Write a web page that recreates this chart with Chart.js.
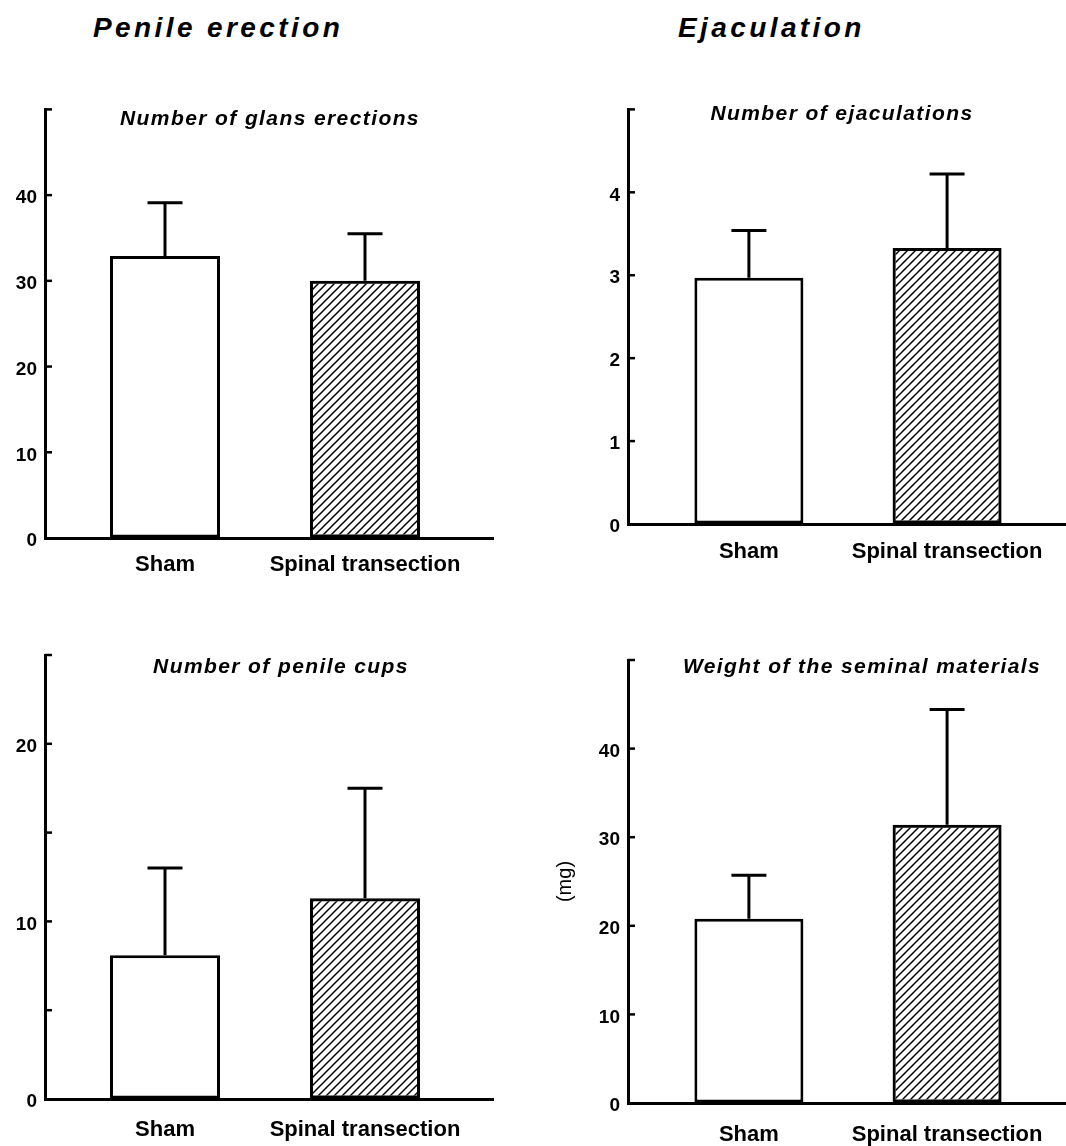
<!DOCTYPE html>
<html>
<head>
<meta charset="utf-8">
<script src="https://cdn.jsdelivr.net/npm/chart.js@4"></script>
<style>
body { margin: 0; background: #fff; }
#page { position: relative; width: 1066px; height: 1146px; overflow: hidden; background: #fff;
        font-family: "Liberation Sans", Arial, Helvetica, sans-serif; color: #000; }
canvas { position: absolute; }
.head { position: absolute; top: 14px; font-size: 28px; line-height: 28px; font-weight: bold;
        font-style: italic; letter-spacing: 3.4px; white-space: nowrap; }
.sub { position: absolute; font-size: 21px; line-height: 21px; font-weight: bold; font-style: italic;
       letter-spacing: 1.4px; white-space: nowrap; transform: translateX(-50%); }
</style>
</head>
<body>
<div id="page">
  <div class="head" style="left:93px">Penile erection</div>
  <div class="head" style="left:678px">Ejaculation</div>

  <canvas id="c1" width="533" height="505" style="left:0px;top:90px"></canvas>
  <canvas id="c2" width="526" height="505" style="left:540px;top:90px"></canvas>
  <canvas id="c3" width="533" height="516" style="left:0px;top:630px"></canvas>
  <canvas id="c4" width="526" height="516" style="left:540px;top:630px"></canvas>

  <div class="sub" style="left:270px;top:107px">Number of glans erections</div>
  <div class="sub" style="left:842px;top:102px">Number of ejaculations</div>
  <div class="sub" style="left:281px;top:655px">Number of penile cups</div>
  <div class="sub" style="left:862px;top:655px">Weight of the seminal materials</div>
</div>

<script>
Chart.defaults.font.family = '"Liberation Sans", Arial, Helvetica, sans-serif';
Chart.defaults.color = '#000';

var categories = ['Sham', 'Spinal transection'];

// mean and upper error (SEM)
var glansMeans = [32.9, 30.0];
var glansErrors = [6.2, 5.5];
var glansTicks = [0, 10, 20, 30, 40, 50];
var glansTickLabels = ['0', '10', '20', '30', '40', ''];

var ejacMeans = [2.97, 3.33];
var ejacErrors = [0.57, 0.89];
var ejacTicks = [0, 1, 2, 3, 4, 5];
var ejacTickLabels = ['0', '1', '2', '3', '4', ''];

var cupsMeans = [8.1, 11.3];
var cupsErrors = [4.9, 6.2];
var cupsTicks = [0, 5, 10, 15, 20, 25];
var cupsTickLabels = ['0', '', '10', '', '20', ''];

var weightMeans = [20.8, 31.4];
var weightErrors = [4.9, 13.0];
var weightTicks = [0, 10, 20, 30, 40, 50];
var weightTickLabels = ['0', '10', '20', '30', '40', ''];

function makeHatch() {
    var c = document.createElement('canvas');
    c.width = 8; c.height = 8;
    var g = c.getContext('2d');
    g.strokeStyle = '#000';
    g.lineWidth = 1.5;
    g.beginPath();
    g.moveTo(-2, 10); g.lineTo(10, -2);
    g.moveTo(-2, 2); g.lineTo(2, -2);
    g.moveTo(6, 10); g.lineTo(10, 6);
    g.stroke();
    return g.createPattern(c, 'repeat');
}
var hatch = makeHatch();

// error bars (upper only) + short inward ticks on the y axis
var marksPlugin = {
    id: 'marks',
    afterDatasetsDraw: function(chart) {
        var ctx = chart.ctx;
        var y = chart.scales.y;
        var area = chart.chartArea;
        var ds = chart.data.datasets[0];
        ctx.save();
        ctx.strokeStyle = '#000';
        ctx.lineWidth = 3;
        chart.getDatasetMeta(0).data.forEach(function(bar, i) {
            var top = y.getPixelForValue(ds.data[i].y + ds.errors[i]);
            ctx.beginPath();
            ctx.moveTo(bar.x, bar.y);
            ctx.lineTo(bar.x, top);
            ctx.moveTo(bar.x - 17.5, top);
            ctx.lineTo(bar.x + 17.5, top);
            ctx.stroke();
        });
        ctx.lineWidth = 2.5;
        y.ticks.forEach(function(t, i) {
            if (t.value === 0) return;
            var py = y.getPixelForTick(i);
            ctx.beginPath();
            ctx.moveTo(area.left, py);
            ctx.lineTo(area.left + 7, py);
            ctx.stroke();
        });
        ctx.restore();
    }
};

function makeChart(id, means, errors, ticks, tickLabels, geo) {
    return new Chart(document.getElementById(id), {
        type: 'bar',
        data: {
            datasets: [{
                data: means.map(function(v, i) { return { x: i + 1, y: v }; }),
                errors: errors,
                backgroundColor: ['#ffffff', hatch],
                borderColor: '#000',
                borderWidth: 3,
                borderSkipped: false,
                barPercentage: 0.55,
                categoryPercentage: 1.0
            }]
        },
        options: {
            responsive: false,
            animation: false,
            events: [],
            layout: { padding: { top: geo.padTop, right: geo.padRight, left: 0, bottom: 0 } },
            plugins: { legend: { display: false }, tooltip: { enabled: false } },
            scales: {
                x: {
                    type: 'linear',
                    min: geo.xMin,
                    max: geo.xMax,
                    offset: false,
                    afterBuildTicks: function(axis) {
                        axis.ticks = categories.map(function(c, i) { return { value: i + 1 }; });
                    },
                    afterFit: function(scale) { scale.height = geo.xHeight; },
                    grid: { display: true, drawOnChartArea: false, drawTicks: false, offset: false },
                    border: { display: true, color: '#000', width: 3 },
                    ticks: {
                        autoSkip: false,
                        maxRotation: 0,
                        padding: geo.labelPad,
                        font: { size: 22, weight: 'bold' },
                        callback: function(value) { return categories[value - 1]; }
                    }
                },
                y: {
                    min: ticks[0],
                    max: ticks[ticks.length - 1],
                    afterBuildTicks: function(axis) {
                        axis.ticks = ticks.map(function(v) { return { value: v }; });
                    },
                    afterFit: function(scale) { scale.width = geo.yWidth; },
                    grid: { display: true, drawOnChartArea: false, drawTicks: false },
                    border: { display: true, color: '#000', width: 3 },
                    title: geo.yTitle ? {
                        display: true,
                        text: geo.yTitle,
                        font: { size: 20, weight: 'normal' },
                        padding: { top: 13, bottom: 0 }
                    } : { display: false },
                    ticks: {
                        padding: 8,
                        labelOffset: 3,
                        font: { size: 19, weight: 'bold' },
                        callback: function(value, index) { return tickLabels[index]; }
                    }
                }
            }
        },
        plugins: [marksPlugin]
    });
}

makeChart('c1', glansMeans, glansErrors, glansTicks, glansTickLabels,
    { padTop: 18, padRight: 40, yWidth: 45, xHeight: 57, labelPad: 14, xMin: 0.4, xMax: 2.64 });
makeChart('c2', ejacMeans, ejacErrors, ejacTicks, ejacTickLabels,
    { padTop: 19, padRight: 0, yWidth: 88, xHeight: 71, labelPad: 15, xMin: 0.39, xMax: 2.6 });
makeChart('c3', cupsMeans, cupsErrors, cupsTicks, cupsTickLabels,
    { padTop: 25, padRight: 40, yWidth: 45, xHeight: 47, labelPad: 18, xMin: 0.4, xMax: 2.64 });
makeChart('c4', weightMeans, weightErrors, weightTicks, weightTickLabels,
    { padTop: 30, padRight: 0, yWidth: 88, xHeight: 43, labelPad: 19, xMin: 0.39, xMax: 2.6, yTitle: '(mg)' });
</script>
</body>
</html>
